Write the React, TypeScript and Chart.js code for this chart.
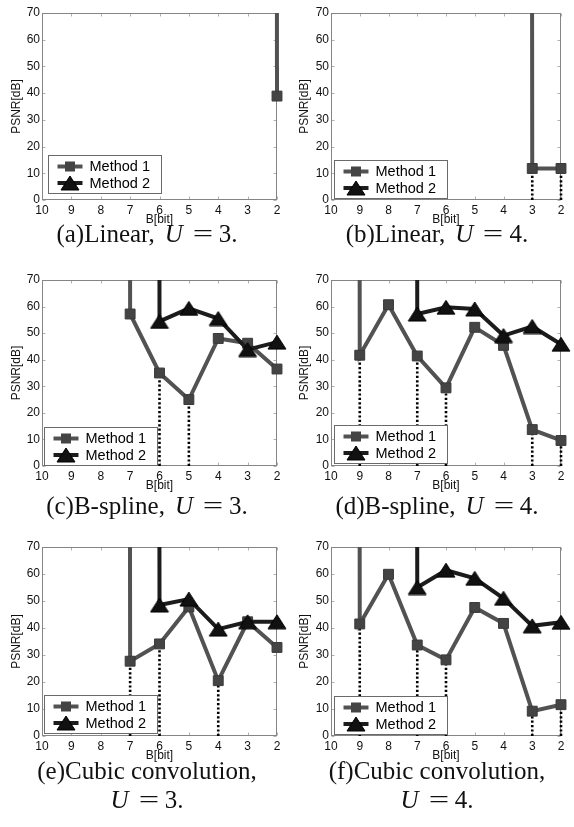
import React, { useEffect, useRef } from "react";
import { Chart, registerables } from "chart.js";

Chart.register(...registerables);
Chart.defaults.font.family = "'Liberation Sans', Arial, sans-serif";

// ---------- data ----------
const bits = [10, 9, 8, 7, 6, 5, 4, 3, 2];
const psnrTicks = [0, 10, 20, 30, 40, 50, 60, 70];
const seriesNames = ["Method 1", "Method 2"];
const HIGH = 10000; // "infinite" PSNR, far above the axis

const linearU3Method1 = [null, null, null, null, null, null, null, HIGH, 38.9];
const linearU3Method2 = [null, null, null, null, null, null, null, null, null];
const linearU3Drops: number[] = [];

const linearU4Method1 = [null, null, null, null, null, null, HIGH, 11.8, 11.8];
const linearU4Method2 = [null, null, null, null, null, null, null, null, null];
const linearU4Drops = [3, 2];

const bsplineU3Method1 = [null, null, HIGH, 57.2, 35.0, 25.0, 48.0, 46.2, 36.5];
const bsplineU3Method2 = [null, null, null, HIGH, 54.4, 59.3, 55.5, 43.8, 46.6];
const bsplineU3Drops = [6, 5];

const bsplineU4Method1 = [HIGH, 41.7, 60.7, 41.4, 29.4, 52.2, 45.4, 13.7, 9.6];
const bsplineU4Method2 = [null, null, HIGH, 57.2, 59.7, 59.1, 49.1, 52.5, 45.8];
const bsplineU4Drops = [9, 7, 6, 3, 2];

const cubicU3Method1 = [null, null, HIGH, 27.7, 34.1, 47.8, 20.5, 42.3, 32.8];
const cubicU3Method2 = [null, null, null, HIGH, 48.5, 50.7, 39.6, 42.3, 42.3];
const cubicU3Drops = [7, 6, 4];

const cubicU4Method1 = [HIGH, 41.5, 59.9, 33.7, 28.2, 47.6, 41.7, 9.2, 11.6];
const cubicU4Method2 = [null, null, HIGH, 55.0, 61.4, 58.4, 51.0, 40.8, 42.1];
const cubicU4Drops = [9, 7, 6, 3, 2];

// ---------- styles / layout ----------
const C1 = "#525252";
const C1P = "#444444";
const C2 = "#1c1c1c";
const C2P = "#111111";
const TICK_COLOR = "#111";

const colGeom = [
  { left: 0, width: 290, axisW: 42, padR: 9, titlePad: 9.8, capCenter: 147 },
  { left: 287, width: 287, axisW: 44, padR: 4, titlePad: 10.8, capCenter: 437 },
];
const rowGeom = [
  { plotTop: 12, plotBottom: 200, capTop: 221, lh: 26 },
  { plotTop: 279, plotBottom: 466, capTop: 493, lh: 26 },
  { plotTop: 546, plotBottom: 736, capTop: 756, lh: 29 },
];

let triImg: HTMLCanvasElement | null = null;
function triangleImage() {
  if (triImg) return triImg;
  const w = 18, h = 14;
  const c = document.createElement("canvas");
  c.width = w + 2;
  c.height = h + 2;
  const g = c.getContext("2d")!;
  g.beginPath();
  g.moveTo((w + 2) / 2, 1);
  g.lineTo(w + 1, h + 1);
  g.lineTo(1, h + 1);
  g.closePath();
  g.fillStyle = C2P;
  g.fill();
  g.strokeStyle = "#000";
  g.lineWidth = 1;
  g.stroke();
  triImg = c;
  return c;
}

const framePlugin = {
  id: "frame",
  beforeDatasetsDraw(chart: any) {
    const { ctx, chartArea: a, scales } = chart;
    const L = Math.round(a.left) + 0.5;
    const R = Math.round(a.right) - 0.5;
    const T = Math.round(a.top) + 0.5;
    const B = Math.round(a.bottom) - 0.5;
    ctx.save();
    ctx.strokeStyle = "#b0b0b0";
    ctx.lineWidth = 1;
    ctx.beginPath();
    bits.forEach((b) => {
      const px = Math.round(scales.x.getPixelForValue(b)) + 0.5;
      ctx.moveTo(px, T);
      ctx.lineTo(px, T + 3);
      ctx.moveTo(px, B);
      ctx.lineTo(px, B - 3);
    });
    psnrTicks.forEach((v) => {
      const py = Math.round(scales.y.getPixelForValue(v)) + 0.5;
      ctx.moveTo(L, py);
      ctx.lineTo(L + 3, py);
      ctx.moveTo(R, py);
      ctx.lineTo(R - 3, py);
    });
    ctx.stroke();
    ctx.strokeStyle = "#858585";
    ctx.strokeRect(L, T, R - L, B - T);
    ctx.restore();
  },
};

const legendPlugin = {
  id: "boxLegend",
  afterDatasetsDraw(chart: any, _args: any, opts: any) {
    const { ctx, chartArea } = chart;
    const W = 113, H = 38;
    const bx = Math.round(chartArea.left + opts.dx) + 0.5;
    const by = Math.round(chartArea.bottom - opts.dy - H) + 0.5;
    ctx.save();
    ctx.fillStyle = "#fff";
    ctx.fillRect(bx, by, W, H);
    ctx.strokeStyle = "#6a6a6a";
    ctx.lineWidth = 1;
    ctx.strokeRect(bx, by, W, H);
    const items = chart.data.datasets.filter((d: any) => seriesNames.includes(d.label));
    items.sort((p: any, q: any) => seriesNames.indexOf(p.label) - seriesNames.indexOf(q.label));
    items.forEach((d: any, i: number) => {
      const ly = by + 11 + i * 16.5;
      ctx.strokeStyle = d.borderColor;
      ctx.lineWidth = 4;
      ctx.beginPath();
      ctx.moveTo(bx + 9, ly);
      ctx.lineTo(bx + 34, ly);
      ctx.stroke();
      const cx = bx + 21.5;
      if (d.pointStyle === "rect") {
        ctx.fillStyle = d.pointBackgroundColor;
        ctx.fillRect(cx - 5, ly - 5, 10, 10);
      } else {
        const img = d.pointStyle as HTMLCanvasElement;
        ctx.drawImage(img, cx - img.width / 2, ly - img.height / 2);
      }
      ctx.fillStyle = "#000";
      ctx.font = "14.5px 'Liberation Sans', Arial, sans-serif";
      ctx.textBaseline = "middle";
      ctx.textAlign = "left";
      ctx.fillText(d.label, bx + 41, ly + 0.5);
    });
    ctx.restore();
  },
};

type Vals = (number | null)[];
type PanelDef = {
  m1: Vals;
  m2: Vals;
  drops: number[];
  legend: { dx: number; dy: number };
  col: number;
  row: number;
  caption: React.ReactNode;
};

const Eq = ({ n, lead = true }: { n: number; lead?: boolean }) => (
  <>
    <i style={{ marginLeft: lead ? 10 : 0 }}>U</i>
    <span style={{ display: "inline-block", transform: "scaleX(1.45)", margin: "0 9px 0 13px" }}>=</span>
    {n}.
  </>
);

const panels: PanelDef[] = [
  { m1: linearU3Method1, m2: linearU3Method2, drops: linearU3Drops, legend: { dx: 6, dy: 7 }, col: 0, row: 0,
    caption: <>(a)Linear,<Eq n={3} /></> },
  { m1: linearU4Method1, m2: linearU4Method2, drops: linearU4Drops, legend: { dx: 3, dy: 2 }, col: 1, row: 0,
    caption: <>(b)Linear,<Eq n={4} /></> },
  { m1: bsplineU3Method1, m2: bsplineU3Method2, drops: bsplineU3Drops, legend: { dx: 2, dy: 1 }, col: 0, row: 1,
    caption: <>(c)B-spline,<Eq n={3} /></> },
  { m1: bsplineU4Method1, m2: bsplineU4Method2, drops: bsplineU4Drops, legend: { dx: 3, dy: 3 }, col: 1, row: 1,
    caption: <>(d)B-spline,<Eq n={4} /></> },
  { m1: cubicU3Method1, m2: cubicU3Method2, drops: cubicU3Drops, legend: { dx: 2, dy: 3 }, col: 0, row: 2,
    caption: <>(e)Cubic convolution,<br /><Eq n={3} lead={false} /></> },
  { m1: cubicU4Method1, m2: cubicU4Method2, drops: cubicU4Drops, legend: { dx: 3, dy: 2 }, col: 1, row: 2,
    caption: <>(f)Cubic convolution,<br /><Eq n={4} lead={false} /></> },
];

function Panel({ def }: { def: PanelDef }) {
  const ref = useRef<HTMLCanvasElement>(null);
  const cg = colGeom[def.col];
  const rg = rowGeom[def.row];
  const padTop = 12;
  const xAxisH = 28;
  const top = rg.plotTop - padTop;
  const height = rg.plotBottom - rg.plotTop + padTop + xAxisH;

  useEffect(() => {
    const clip = { left: 12, top: 0, right: 12, bottom: 12 };
    const toPts = (vals: Vals) => bits.map((b, i) => ({ x: b, y: vals[i] }));
    const dropSets = def.drops.map((b) => ({
      label: "drop",
      data: [{ x: b, y: 0 }, { x: b, y: def.m1[bits.indexOf(b)] }],
      borderColor: "#000",
      borderWidth: 2.6,
      borderDash: [2.2, 2.2],
      pointRadius: 0,
      order: 2,
      clip,
    }));
    const chart = new Chart(ref.current!, {
      type: "line",
      data: {
        datasets: [
          {
            label: seriesNames[1],
            data: toPts(def.m2),
            borderColor: C2,
            borderWidth: 4,
            pointStyle: triangleImage(),
            pointBackgroundColor: C2P,
            pointRadius: 9,
            order: 0,
            clip,
          } as any,
          {
            label: seriesNames[0],
            data: toPts(def.m1),
            borderColor: C1,
            borderWidth: 4,
            pointStyle: "rect",
            pointRadius: 7,
            pointBackgroundColor: C1P,
            pointBorderColor: "#3a3a3a",
            pointBorderWidth: 1,
            order: 1,
            clip,
          },
          ...dropSets,
        ],
      },
      options: {
        responsive: false,
        animation: false,
        devicePixelRatio: 1,
        layout: { padding: { left: 0, top: padTop, right: cg.padR, bottom: 0 } },
        plugins: {
          legend: { display: false },
          tooltip: { enabled: false },
          boxLegend: def.legend,
        } as any,
        scales: {
          x: {
            type: "linear",
            min: 2,
            max: 10,
            reverse: true,
            grid: { display: false, drawTicks: false },
            border: { display: false },
            ticks: { stepSize: 1, autoSkip: false, maxRotation: 0, padding: 3, color: TICK_COLOR, font: { size: 12 } },
            title: { display: true, text: "B[bit]", color: TICK_COLOR, font: { size: 12 }, padding: { top: 0, bottom: 1 } },
            afterFit: (s: any) => { s.height = xAxisH; },
          },
          y: {
            type: "linear",
            min: 0,
            max: 70,
            grid: { display: false, drawTicks: false },
            border: { display: false },
            ticks: { stepSize: 10, autoSkip: false, padding: 2, color: TICK_COLOR, font: { size: 12 } },
            title: { display: true, text: "PSNR[dB]", color: TICK_COLOR, font: { size: 12 }, padding: { top: cg.titlePad, bottom: 0 } },
            afterFit: (s: any) => { s.width = cg.axisW; },
          },
        },
      },
      plugins: [framePlugin, legendPlugin],
    } as any);
    return () => chart.destroy();
  }, []);

  return (
    <canvas
      ref={ref}
      width={cg.width}
      height={height}
      style={{ position: "absolute", left: cg.left, top, width: cg.width, height }}
    />
  );
}

export default function App() {
  return (
    <div style={{ position: "absolute", left: 0, top: 0, width: 574, height: 827, background: "#fff", overflow: "hidden" }}>
      {panels.map((p, i) => (
        <Panel key={"p" + i} def={p} />
      ))}
      {panels.map((p, i) => {
        const cg = colGeom[p.col];
        const rg = rowGeom[p.row];
        return (
          <div
            key={"c" + i}
            style={{
              position: "absolute",
              left: cg.capCenter - 150,
              width: 300,
              top: rg.capTop,
              textAlign: "center",
              fontFamily: "'Liberation Serif', 'Times New Roman', serif",
              fontSize: 25,
              lineHeight: rg.lh + "px",
              color: "#111",
              whiteSpace: "nowrap",
            }}
          >
            {p.caption}
          </div>
        );
      })}
    </div>
  );
}
